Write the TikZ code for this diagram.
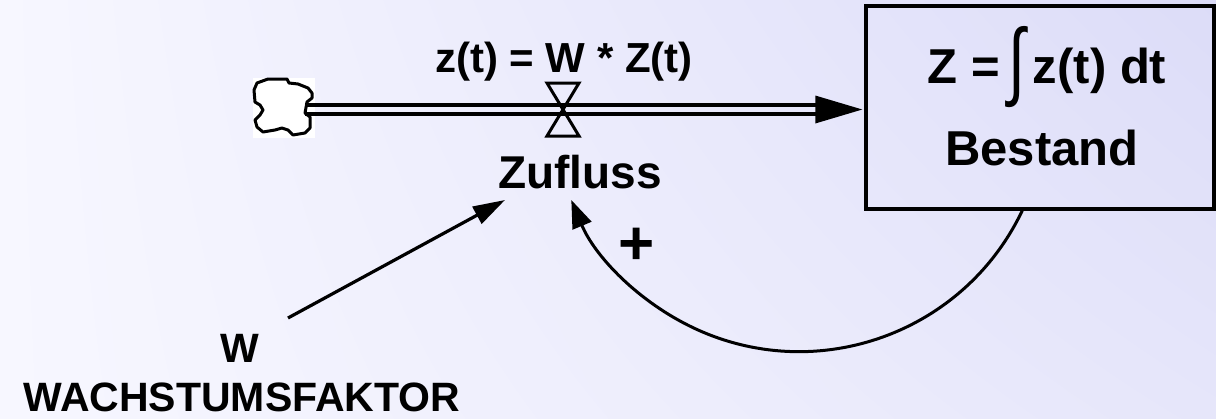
\documentclass[tikz,border=0pt]{standalone}
\usepackage{fontspec}
\setmainfont{Liberation Sans}
\usetikzlibrary{arrows.meta,calc,shadings}
\definecolor{bgUL}{HTML}{F7F7FF}
\definecolor{bgUR}{HTML}{DCDCF8}
\definecolor{bgLL}{HTML}{F7F7FF}
\definecolor{bgLR}{HTML}{E6E6FA}
\begin{document}
\begin{tikzpicture}[x=1pt,y=-1pt,
  lbl/.style={font=\bfseries, inner sep=0pt, anchor=base},
  fs/.style={font=\bfseries\fontsize{#1}{#1}\selectfont},
  pipe/.style={line width=3.5pt},
  conn/.style={line width=3.2pt, -{Triangle[length=32pt,width=19pt]}},
  conncurve/.style={line width=3pt, -{Triangle[length=28pt,width=20pt]}}]
\useasboundingbox (0,0) rectangle (1216,418);
\shade[upper left=bgUL, upper right=bgUR, lower left=bgLL, lower right=bgLR] (0,0) rectangle (1216,418);

% cloud (source)
\coordinate (cloud) at (305,109.5);
\fill[white] (253,78) rectangle (315,138);
\draw[line width=3pt, line join=round]
  (257,83) -- (268,79) -- (287,79) -- (289,83) -- (298,84) -- (308,88) -- (312,93) -- (312,98)
  -- (307,102) -- (305,113) -- (310,117) -- (310,128) -- (305,133) -- (293,135) -- (288,130)
  -- (282,128) -- (275,130) -- (263,132) -- (257,127) -- (255,120) -- (260,115) -- (263,110)
  -- (260,105) -- (255,102) -- (254,90) -- cycle;

% stock box
\node[draw, line width=3.5pt, minimum width=348pt, minimum height=203pt, inner sep=0pt] (box) at (1040,107.5) {};
\node[lbl, fs=49] (eq) at (1047,83) {Z =\,\raisebox{-0.14em}{\mdseries\scalebox{1.25}[1.75]{∫}}\,z(t) dt};
\node[lbl, fs=49] (bestand) at (1042,165) {Bestand};

% pipe
\coordinate (tip) at ($(box.west |- cloud)+(-2,0)$);
\draw[pipe] ($(cloud)+(0,-4.5)$) -- ($(tip)+(-45,-4.5)$);
\draw[pipe] ($(cloud)+(0,4.5)$) -- ($(tip)+(-45,4.5)$);
\fill ($(tip)+(-47,-14)$) -- (tip) -- ($(tip)+(-47,14)$) -- cycle;

% valve
\coordinate (valve) at (563,109.5);
\draw[line width=3pt, line join=miter]
  ($(valve)+(-16,-26.5)$) -- ($(valve)+(16,-26.5)$) -- ($(valve)+(-16,26.5)$) -- ($(valve)+(16,26.5)$) -- cycle;

% labels
\node[lbl, fs=42] (flow) at (564,72) {z(t) = W * Z(t)};
\node[lbl, fs=46] (zufluss) at (580,188) {Zufluss};
\node[lbl, fs=41] (w) at (240,362) {W};
\node[lbl, fs=41] (wf) at (242,411) {WACHSTUMSFAKTOR};
\node[fs=62, inner sep=0pt] (plus) at (637,246) {+};

% connectors
\coordinate (wsrc) at (288,318);
\coordinate (zin) at (505,200);
\draw[conn] (wsrc) -- (zin);
\coordinate (bout) at (1023,209);
\draw[conncurve] (bout) arc[start angle=25, end angle=157.3, radius=247];
\end{tikzpicture}
\end{document}
